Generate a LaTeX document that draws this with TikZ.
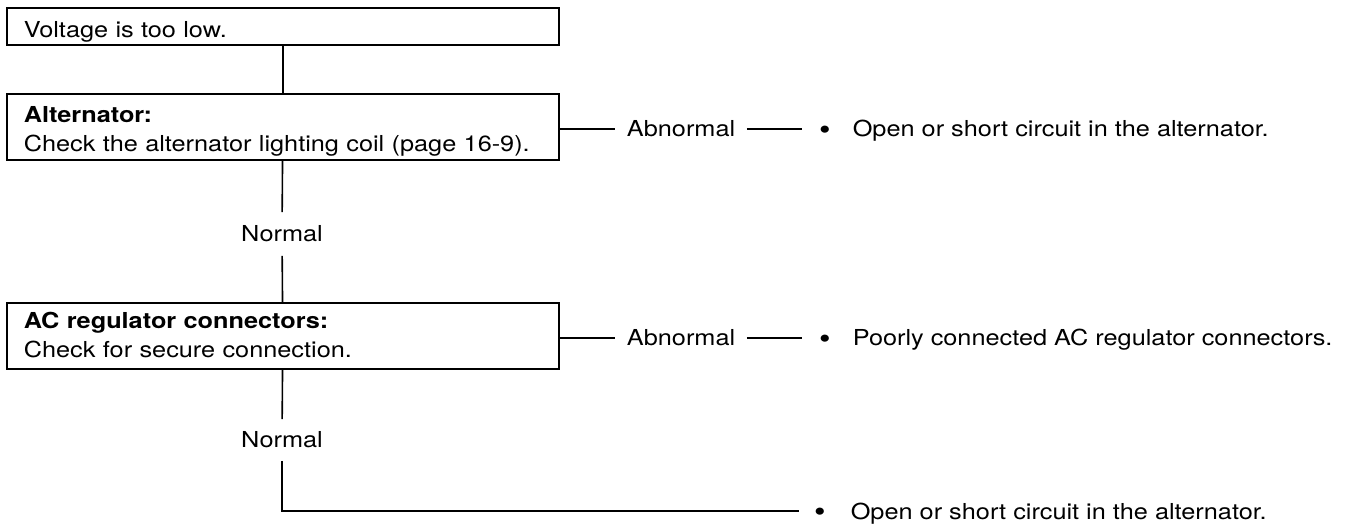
\documentclass[tikz,border=0pt]{standalone}
\usepackage{fontspec}
\usepackage{graphicx}
\setmainfont[FakeStretch=1.15]{TeX Gyre Heros}
\begin{document}
\begin{tikzpicture}[x=0.5pt,y=-0.5pt, line width=0.8pt,
  every node/.style={font=\fontsize{11pt}{14.25pt}\selectfont},
  box/.style={draw, rectangle, minimum width=276pt, inner xsep=8.5pt, text width=259pt, align=left, anchor=north west},
  lbl/.style={inner ysep=0pt},
  abn/.style={inner xsep=5.5pt, anchor=base},
  bul/.style={inner xsep=8pt, anchor=base},
  res/.style={anchor=base west, inner xsep=0pt}
]
\useasboundingbox (0,0) rectangle (1346,529);
% boxes
\node[box, minimum height=18.5pt, text height=11.5pt, text depth=0pt] (b1) at (6,7) {Voltage is too low.};
\node[box, minimum height=33pt, text height=8pt, text depth=12pt] (b2) at (6,93) {\textbf{Alternator:}\\Check the alternator lighting coil (page 16-9).};
\node[box, minimum height=33pt, text height=8pt, text depth=15pt] (b3) at (6,302) {\textbf{AC regulator connectors:}\\[0.25pt]Check for secure connection.};
% normal labels
\node[lbl, minimum height=21pt] (n1) at (282,234) {Normal};
\node[lbl, minimum height=20pt] (n2) at (282,440) {Normal};
% abnormal rows
\node[abn] (a1) at (681,137) {Abnormal};
\node[bul] (d1) at (825,139.5) {\scalebox{1.3}{\textbullet}};
\node[res] (t1) at (852,137) {Open or short circuit in the alternator.};
\node[abn] (a2) at (681,346) {Abnormal};
\node[bul] (d2) at (825,348.5) {\scalebox{1.3}{\textbullet}};
\node[res] (t2) at (852,346) {Poorly connected AC regulator connectors.};
% final row
\node[bul, inner xsep=7pt] (d3) at (820,521.5) {\scalebox{1.3}{\textbullet}};
\node[res] (t3) at (850,520) {Open or short circuit in the alternator.};
\coordinate (e3) at (d3.west |- 0,511);
% connectors
\draw (b1) -- (b2);
\draw (b2) -- (n1);
\draw (n1) -- (b3);
\draw (b3) -- (n2);
\draw (n2.south) |- (e3);
\draw (b2.east |- a1) -- (a1.west);
\draw (a1.east) -- (a1.east -| d1.west);
\draw (b3.east |- a2) -- (a2.west);
\draw (a2.east) -- (a2.east -| d2.west);
\end{tikzpicture}
\end{document}
